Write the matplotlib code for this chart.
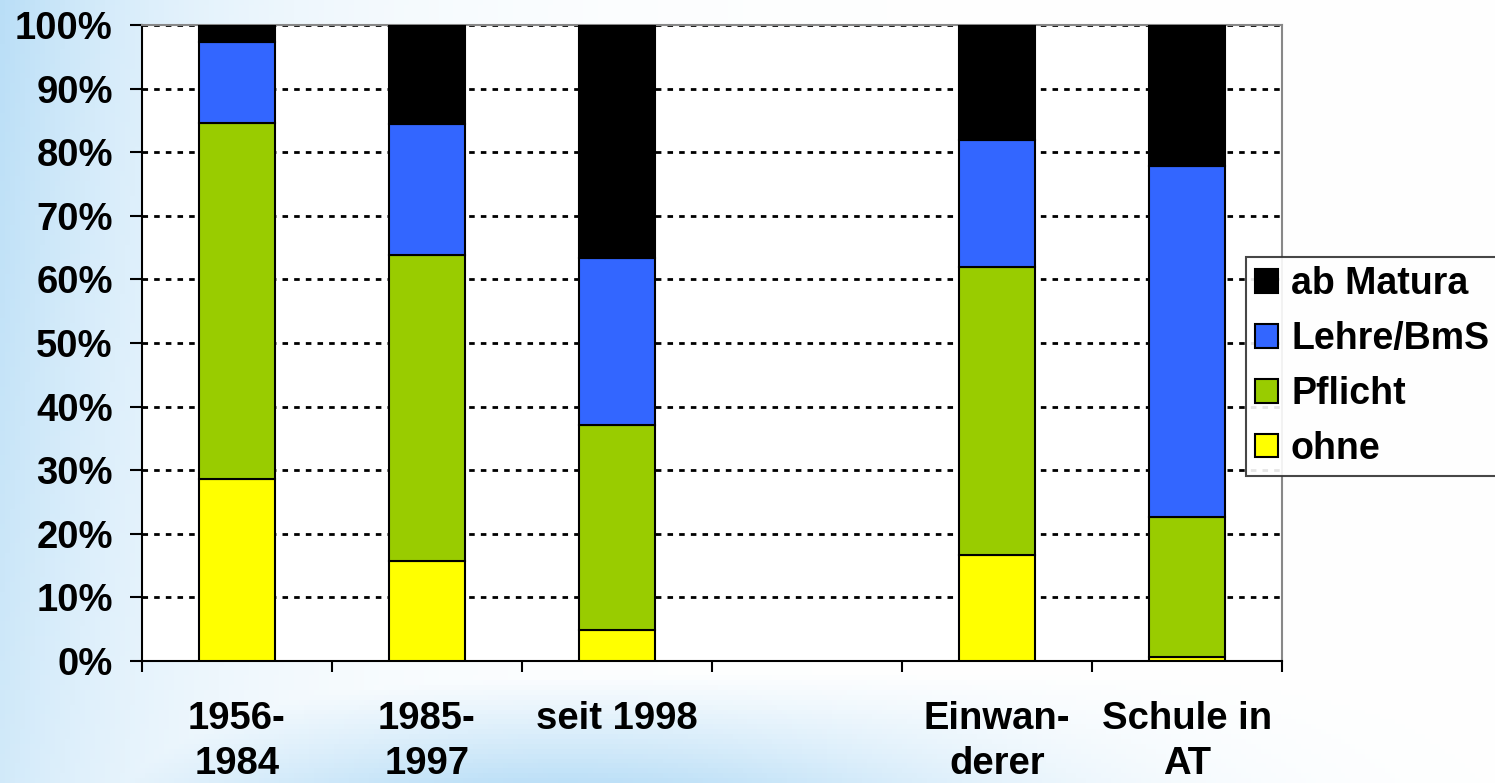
import numpy as np
import matplotlib
matplotlib.use('Agg')
import matplotlib.pyplot as plt
from matplotlib.ticker import FixedLocator, PercentFormatter

# categories (one empty slot between "seit 1998" and "Einwanderer")
categories = ['1956-\n1984', '1985-\n1997', 'seit 1998', '', 'Einwan-\nderer', 'Schule in\nAT']

# shares in percent, bottom to top
ohne = [28.6, 15.7, 4.9, 0, 16.7, 0.6]
pflicht = [56.0, 48.1, 32.2, 0, 45.2, 22.0]
lehre = [12.7, 20.6, 26.3, 0, 20.0, 55.2]
matura = [2.7, 15.6, 36.6, 0, 18.1, 22.2]

series_names = ['ohne', 'Pflicht', 'Lehre/BmS', 'ab Matura']
series_colors = ['#FFFF00', '#99CC00', '#3366FF', '#000000']

plt.rcParams['font.family'] = ['Liberation Sans', 'DejaVu Sans']
plt.rcParams['font.weight'] = 'bold'

W, H = 1495, 783
fig = plt.figure(figsize=(W / 100, H / 100), dpi=100)

# slide background: light blue on the left and along the bottom
bg = fig.add_axes([0, 0, 1, 1])
gx, gy = np.meshgrid(np.linspace(0, 1, 300), np.linspace(0, 1, 160))
s_left = 0.8 * np.exp(-gx / 0.14) * (0.65 + 0.35 * (1 - gy))
s_bottom = np.clip((gy - 0.86) / 0.14, 0, 1) * np.exp(-((gx - 0.38) / 0.3) ** 2) * 0.75
s = np.clip(np.maximum(s_left, s_bottom), 0, 1)[..., None]
blue = np.array([0.66, 0.84, 0.96])
img = (1 - s) * np.ones(3) + s * blue
bg.imshow(img, aspect='auto', extent=[0, 1, 0, 1], origin='upper')
bg.axis('off')

ax = fig.add_axes([142 / W, (H - 661) / H, 1140 / W, 636 / H])
ax.set_facecolor('white')

x = np.arange(len(categories))
has_data = (np.array(ohne) + np.array(pflicht) + np.array(lehre) + np.array(matura)) > 0
bottom = np.zeros(len(categories))
handles = []
for vals, name, col in zip([ohne, pflicht, lehre, matura], series_names, series_colors):
    vals = np.array(vals)
    b = ax.bar(x[has_data], vals[has_data], width=0.4, bottom=bottom[has_data],
               color=col, edgecolor='black', linewidth=1.5, label=name, zorder=3)
    handles.append(b)
    bottom += vals

ax.set_xlim(-0.5, len(categories) - 0.5)
ax.set_ylim(0, 100)

ax.yaxis.set_major_locator(FixedLocator(np.arange(0, 101, 10)))
ax.yaxis.set_major_formatter(PercentFormatter(decimals=0))
ax.tick_params(axis='y', direction='out', length=9, width=1.5, pad=12, labelsize=27.5)
ax.grid(axis='y', color='black', linestyle=(0, (2, 2.2)), linewidth=2.0, zorder=1)

ax.set_xticks(x)
ax.set_xticklabels(categories, linespacing=1.3)
ax.tick_params(axis='x', length=0, pad=29, labelsize=27.5)
ax.set_xticks(np.arange(-0.5, len(categories)), minor=True)
ax.tick_params(axis='x', which='minor', direction='out', length=8, width=1.5)

for side in ['left', 'bottom']:
    ax.spines[side].set_color('black')
    ax.spines[side].set_linewidth(1.5)
for side in ['top', 'right']:
    ax.spines[side].set_color('#888888')
    ax.spines[side].set_linewidth(1.5)

leg = fig.legend(handles[::-1], series_names[::-1], loc='upper left',
                 bbox_to_anchor=(1246 / W, 1 - 257 / H), fontsize=27,
                 frameon=True, fancybox=False, edgecolor='#333333',
                 handlelength=0.6, handleheight=0.6, handletextpad=0.35,
                 labelspacing=0.5, borderpad=0.25, borderaxespad=0)
leg.get_frame().set_linewidth(1.5)
leg.get_frame().set_facecolor('white')
leg.get_frame().set_alpha(0.9)

fig.savefig('out.png', dpi=100)
